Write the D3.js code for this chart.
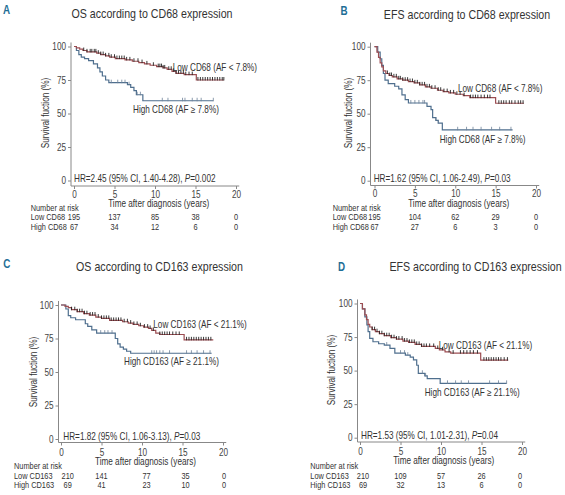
<!DOCTYPE html>
<html><head><meta charset="utf-8">
<script src="https://cdn.jsdelivr.net/npm/d3@7"></script>
<style>
body{margin:0;background:#fff;}
svg{display:block;font-family:"Liberation Sans",Arial,Helvetica,sans-serif;}
</style></head><body>
<svg id="c" width="565" height="495"></svg>
<script>
// ---------------- DATA ----------------
const panelLetters = ["A", "B", "C", "D"];
const panelTitles = ["OS according to CD68 expression", "EFS according to CD68 expression",
                     "OS according to CD163 expression", "EFS according to CD163 expression"];
const xTicks = [0, 5, 10, 15, 20];
const yTicks = [0, 25, 50, 75, 100];
const riskTimes = [0, 5, 10, 15, 20];
const yLabel = "Survival fuction (%)";
const xLabel = "Time after diagnosis (years)";
const riskHeader = "Number at risk";
const lowGroupNames = ["Low CD68", "Low CD68", "Low CD163", "Low CD163"];
const highGroupNames = ["High CD68", "High CD68", "High CD163", "High CD163"];
const lowCurveLabels = ["Low CD68 (AF < 7.8%)", "Low CD68 (AF < 7.8%)", "Low CD163 (AF < 21.1%)", "Low CD163 (AF < 21.1%)"];
const highCurveLabels = ["High CD68 (AF \u2265 7.8%)", "High CD68 (AF \u2265 7.8%)", "High CD163 (AF \u2265 21.1%)", "High CD163 (AF \u2265 21.1%)"];
const hrTexts = ["HR=2.45 (95% CI, 1.40-4.28), ", "HR=1.62 (95% CI, 1.06-2.49), ",
                 "HR=1.82 (95% CI, 1.06-3.13), ", "HR=1.53 (95% CI, 1.01-2.31), "];
const pValues = ["0.002", "0.03", "0.03", "0.04"];

const riskLowA = [195, 137, 85, 38, 0];
const riskHighA = [67, 34, 12, 6, 0];
const riskLowB = [195, 104, 62, 29, 0];
const riskHighB = [67, 27, 6, 3, 0];
const riskLowC = [210, 141, 77, 35, 0];
const riskHighC = [69, 41, 23, 10, 0];
const riskLowD = [210, 109, 57, 26, 0];
const riskHighD = [69, 32, 13, 6, 0];

// Kaplan-Meier step curves: time (years) and survival (%) after each step
const lowA_t = [0, 0.3, 0.7, 1.1, 1.6, 2.8, 3.3, 3.9, 4.4, 5.1, 6.3, 7.2, 8.0, 8.7, 9.4, 10.2, 11.0, 11.5, 12.1, 12.6, 13.6, 15.1, 18.5];
const lowA_s = [100, 99, 98, 97, 96, 95, 94, 93, 92, 91, 90, 89, 88, 87, 86, 85, 84, 83, 81.5, 80, 79, 75, 75];
const highA_t = [0, 0.3, 0.6, 0.9, 1.3, 1.8, 2.4, 2.9, 3.2, 3.5, 3.9, 4.3, 6.6, 7.0, 7.4, 7.7, 8.5, 17.2];
const highA_s = [100, 97, 94, 92, 91, 89.5, 87, 84, 81, 78, 75, 73, 71.5, 69.5, 67, 64, 59.5, 59.5];
const lowA_cens = [1.2, 1.6, 2.0, 2.2, 2.5, 2.7, 3.0, 3.3, 3.6, 3.9, 4.3, 4.6, 5.0, 5.3, 5.6, 5.9, 6.2, 6.5, 6.9, 7.4, 7.9, 8.4, 9.0, 9.8, 10.4, 10.6, 10.8, 11.0, 11.2, 11.7, 12.0, 12.3, 12.6, 12.9, 13.2, 13.5, 13.8, 14.2, 14.6, 15.3, 15.6, 15.9, 16.2, 16.5, 16.8, 17.1, 17.4, 17.7, 18.0, 18.3, 18.5];
const highA_cens = [4.6, 5.4, 5.9, 6.3, 6.8, 7.8, 8.2, 10.9, 11.6, 13.4, 13.7, 14.6, 15.2, 15.7, 17.2];

const lowB_t = [0, 0.3, 0.5, 0.7, 0.9, 1.1, 1.4, 1.8, 2.2, 2.8, 3.5, 4.2, 4.9, 5.6, 6.3, 7.0, 7.8, 8.5, 9.2, 10.0, 11.0, 11.8, 15.0, 18.5];
const lowB_s = [100, 96, 92, 88, 85, 82, 80, 78.5, 77.5, 76, 75, 74, 73, 71.5, 70, 69, 67.5, 66.5, 65.5, 64.5, 63.5, 62, 57.8, 57.8];
const highB_t = [0, 0.4, 0.7, 0.9, 1.1, 1.3, 1.7, 2.5, 3.0, 3.4, 3.8, 4.2, 6.5, 7.0, 7.2, 7.6, 7.9, 8.4, 17.1];
const highB_s = [100, 96, 91, 86, 80, 75, 72.5, 70.5, 68.5, 64, 60.5, 58, 55.5, 53, 47, 45, 43, 38, 38];
const lowB_cens = [1.6, 1.9, 2.1, 2.4, 2.7, 3.0, 3.2, 3.5, 3.8, 4.1, 4.4, 4.7, 5.0, 5.3, 5.6, 5.9, 6.2, 6.5, 6.8, 7.1, 7.5, 7.9, 8.2, 8.6, 9.0, 9.4, 9.8, 10.2, 10.6, 11.1, 11.9, 12.2, 12.5, 12.8, 13.2, 13.6, 14.0, 14.3, 15.4, 15.7, 16.0, 16.3, 16.7, 17.0, 17.4, 17.8, 18.1, 18.4];
const highB_cens = [4.5, 5.0, 5.5, 6.0, 6.2, 7.6, 7.9, 10.3, 11.4, 12.2, 13.2, 14.5, 15.5, 16.9];

const lowC_t = [0, 0.5, 0.9, 1.3, 2.0, 2.8, 3.5, 4.3, 5.0, 6.0, 7.6, 8.3, 8.9, 9.6, 10.2, 10.8, 11.2, 11.7, 12.2, 15.2, 18.8];
const lowC_s = [100, 99, 98, 96.5, 95, 93.5, 92.5, 91, 90, 88.5, 87.5, 86.5, 85.5, 84.5, 83.5, 82.5, 81, 79, 78, 74, 74];
const highC_t = [0, 0.6, 0.9, 1.2, 1.8, 3.0, 3.3, 3.8, 4.4, 6.7, 7.0, 7.3, 7.7, 8.1, 8.6, 18.6];
const highC_s = [100, 97, 92, 90.5, 89, 86, 84, 81.5, 79, 75, 71, 68.5, 67, 65.5, 64, 64];
const lowC_cens = [1.3, 1.7, 2.0, 2.3, 2.6, 2.9, 3.2, 3.6, 3.9, 4.2, 4.6, 5.0, 5.3, 5.6, 5.9, 6.2, 6.5, 6.8, 7.1, 7.4, 7.8, 8.2, 8.6, 9.0, 9.4, 9.8, 10.3, 10.7, 11.0, 11.4, 12.2, 12.5, 12.8, 13.1, 13.4, 13.8, 14.2, 14.6, 15.5, 15.8, 16.1, 16.4, 16.7, 17.0, 17.3, 17.6, 17.9, 18.2, 18.5];
const highC_cens = [4.9, 5.4, 5.8, 6.3, 11.2, 11.5, 11.8, 12.2, 12.6, 13.4, 15.5, 16.1, 16.8, 17.6, 18.4];

const lowD_t = [0, 0.3, 0.6, 0.8, 1.0, 1.2, 1.5, 1.9, 2.4, 3.0, 3.8, 4.5, 5.3, 6.0, 6.8, 7.6, 9.3, 9.8, 10.5, 11.2, 14.9, 18.3];
const lowD_s = [100, 96, 91.5, 88, 84.5, 82.5, 80.5, 79, 77.5, 76, 74.5, 73.5, 72, 71, 69.5, 68, 66.5, 65.5, 64, 63, 57.8, 57.8];
const highD_t = [0, 0.3, 0.6, 0.85, 1.0, 1.2, 1.6, 2.3, 3.0, 3.7, 4.3, 5.6, 6.2, 6.6, 7.0, 7.2, 8.0, 8.3, 9.9, 18.1];
const highD_s = [100, 96, 90, 84, 79, 74, 71.5, 70, 69, 66.5, 63, 61.5, 60, 58, 54, 48, 46, 44, 40.5, 40.5];
const lowD_cens = [1.5, 1.8, 2.1, 2.4, 2.7, 3.0, 3.3, 3.6, 3.9, 4.2, 4.5, 4.8, 5.2, 5.5, 5.8, 6.1, 6.4, 6.7, 7.0, 7.3, 7.6, 7.9, 8.2, 8.6, 9.1, 9.6, 10.2, 11.0, 11.5, 12.4, 12.8, 13.2, 13.6, 14.0, 14.5, 15.3, 15.6, 15.9, 16.2, 16.5, 16.8, 17.1, 17.4, 17.8, 18.2];
const highD_cens = [3.3, 5.0, 5.5, 5.9, 7.7, 8.1, 10.8, 11.8, 12.5, 13.4, 16.0, 17.1, 18.1];

// ---------------- LAYOUT ----------------
const layouts = [
  {x0:74, x20:236, y0:180.5, y100:46.5, axX:71, axY:186, tickPad:12.5,
   letter:[3,13.5], title:[152,18], ylab:[49,113], low:[172.7,70.5], high:[133,113], hr:[74,182],
   xlab:[158.7,206.5], riskX:30.7, riskY:[210.5,220,229.5], riskDx:[0,0,0,0,0]},
  {x0:374.5, x20:536, y0:180.7, y100:46.7, axX:370.5, axY:185.5, tickPad:12,
   letter:[340.5,15], title:[467,18.5], ylab:[352,113], low:[458,92], high:[439.7,143], hr:[373.7,181.5],
   xlab:[458.7,206.5], riskX:332.7, riskY:[210.5,220,229.5], riskDx:[0,0,0,0,0]},
  {x0:61, x20:223, y0:439, y100:305, axX:58.5, axY:442.5, tickPad:14,
   letter:[3.3,268], title:[159.5,271], ylab:[36.5,372], low:[153.3,328], high:[124,364.5], hr:[63.3,440],
   xlab:[145.5,465], riskX:14, riskY:[469.3,478.7,488.3], riskDx:[6.7,0,4.5,3,1]},
  {x0:360, x20:522, y0:437.7, y100:303.5, axX:357.5, axY:442, tickPad:13.5,
   letter:[338,270.5], title:[475.5,271], ylab:[335.3,370], low:[438.7,349], high:[424.7,395.5], hr:[361,439],
   xlab:[443.7,463.5], riskX:310.3, riskY:[469.3,478.7,488.3], riskDx:[3,0,0,0,-2]}
];

const curves = [
  {lowT:lowA_t, lowS:lowA_s, highT:highA_t, highS:highA_s, lowC:lowA_cens, highC:highA_cens, rl:riskLowA, rh:riskHighA},
  {lowT:lowB_t, lowS:lowB_s, highT:highB_t, highS:highB_s, lowC:lowB_cens, highC:highB_cens, rl:riskLowB, rh:riskHighB},
  {lowT:lowC_t, lowS:lowC_s, highT:highC_t, highS:highC_s, lowC:lowC_cens, highC:highC_cens, rl:riskLowC, rh:riskHighC},
  {lowT:lowD_t, lowS:lowD_s, highT:highD_t, highS:highD_s, lowC:lowD_cens, highC:highD_cens, rl:riskLowD, rh:riskHighD}
];

const LOW_COLOR = "#9c4d52";
const HIGH_COLOR = "#4f6f8e";
const TEXT = "#333";
const AXIS = "#888";
const SX = 0.82; // horizontal condensing to mimic a narrow typeface

const svg = d3.select("#c");

function txt(g, x, y, s, size, opt = {}) {
  const t = g.append("text")
    .attr("transform", `translate(${x},${y})${opt.rot ? " rotate(-90)" : ""} scale(${SX},1)`)
    .attr("font-size", size).attr("fill", opt.fill || TEXT)
    .attr("text-anchor", opt.anchor || "start");
  if (opt.bold) t.attr("font-weight", "bold");
  if (s !== null) t.text(s);
  return t;
}

function survAt(ts, ss, t) {
  let v = ss[0];
  for (let i = 0; i < ts.length; i++) { if (ts[i] <= t) v = ss[i]; }
  return v;
}

panelLetters.forEach((letter, i) => {
  const L = layouts[i], C = curves[i];
  const g = svg.append("g");
  const x = d3.scaleLinear().domain([0, 20]).range([L.x0, L.x20]);
  const y = d3.scaleLinear().domain([0, 100]).range([L.y0, L.y100]);

  // panel letter & title
  txt(g, L.letter[0], L.letter[1], letter, 12, {bold: true, fill: "#1f6e96"});
  txt(g, L.title[0], L.title[1], panelTitles[i], 13, {anchor: "middle"});

  // axis lines
  g.append("line").attr("x1", L.axX).attr("x2", L.axX).attr("y1", y(103)).attr("y2", L.axY)
    .attr("stroke", AXIS).attr("stroke-width", 1);
  g.append("line").attr("x1", L.axX).attr("x2", x(20.4)).attr("y1", L.axY).attr("y2", L.axY)
    .attr("stroke", AXIS).attr("stroke-width", 1);

  const ya = g.append("g").attr("transform", `translate(${L.axX},0)`)
    .call(d3.axisLeft(y).tickValues(yTicks).tickSize(3).tickPadding(2).tickSizeOuter(0));
  ya.select(".domain").remove();
  const xa = g.append("g").attr("transform", `translate(0,${L.axY})`)
    .call(d3.axisBottom(x).tickValues(xTicks).tickSize(3).tickPadding(L.tickPad - 3 - 7.1).tickSizeOuter(0));
  xa.select(".domain").remove();
  [ya, xa].forEach(a => {
    a.attr("font-family", null).attr("font-size", 10);
    a.selectAll("line").attr("stroke", AXIS);
    a.selectAll("text").attr("fill", "#444").attr("transform", `scale(${SX},1)`);
  });
  ya.selectAll("text").attr("x", -5 / SX);

  // axis labels
  txt(g, L.ylab[0], L.ylab[1], yLabel, 10, {rot: true, anchor: "middle"});
  txt(g, L.xlab[0], L.xlab[1], xLabel, 10, {anchor: "middle"});

  // curves
  const line = d3.line().x(d => x(d[0])).y(d => y(d[1])).curve(d3.curveStepAfter);
  const lowPts = C.lowT.map((t, k) => [t, C.lowS[k]]);
  const highPts = C.highT.map((t, k) => [t, C.highS[k]]);
  g.append("path").attr("d", line(highPts)).attr("fill", "none").attr("stroke", HIGH_COLOR).attr("stroke-width", 1.2);
  g.append("path").attr("d", line(lowPts)).attr("fill", "none").attr("stroke", LOW_COLOR).attr("stroke-width", 1.2);

  // censor marks
  g.selectAll(null).data(C.highC).enter().append("line")
    .attr("x1", d => x(d)).attr("x2", d => x(d))
    .attr("y1", d => y(survAt(C.highT, C.highS, d)) - 3).attr("y2", d => y(survAt(C.highT, C.highS, d)) + 0.5)
    .attr("stroke", "#6d8298").attr("stroke-width", 0.8);
  g.selectAll(null).data(C.lowC).enter().append("line")
    .attr("x1", d => x(d)).attr("x2", d => x(d))
    .attr("y1", d => y(survAt(C.lowT, C.lowS, d)) - 3).attr("y2", d => y(survAt(C.lowT, C.lowS, d)) + 0.5)
    .attr("stroke", "#222").attr("stroke-width", 0.9);

  // curve labels
  txt(g, L.low[0], L.low[1], lowCurveLabels[i], 10);
  txt(g, L.high[0], L.high[1], highCurveLabels[i], 10);

  // HR text
  const hr = txt(g, L.hr[0], L.hr[1], null, 10);
  hr.append("tspan").text(hrTexts[i]);
  hr.append("tspan").attr("font-style", "italic").text("P");
  hr.append("tspan").text("=" + pValues[i]);

  // risk table
  txt(g, L.riskX, L.riskY[0], riskHeader, 9);
  txt(g, L.riskX, L.riskY[1], lowGroupNames[i], 9);
  txt(g, L.riskX, L.riskY[2], highGroupNames[i], 9);
  riskTimes.forEach((t, k) => {
    txt(g, x(t) + L.riskDx[k], L.riskY[1], String(C.rl[k]), 9, {anchor: "middle"});
    txt(g, x(t) + L.riskDx[k], L.riskY[2], String(C.rh[k]), 9, {anchor: "middle"});
  });
});
</script>
</body></html>
